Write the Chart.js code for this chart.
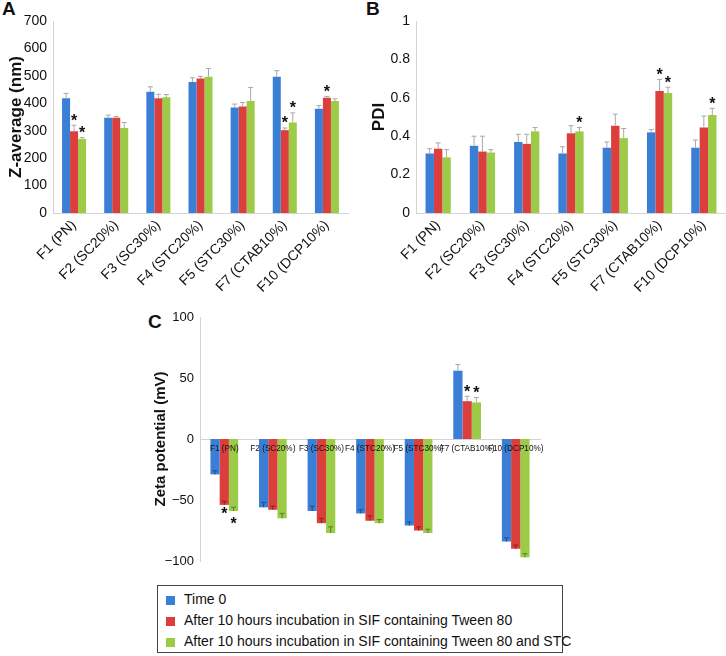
<!DOCTYPE html>
<html>
<head>
<meta charset="utf-8">
<script src="https://cdn.jsdelivr.net/npm/chart.js@4.4.0/dist/chart.umd.min.js"></script>
<style>
  body { margin: 0; background: #fff; font-family: "Liberation Sans", Arial, sans-serif; }
  #wrap { position: relative; width: 726px; height: 656px; }
  .box { position: absolute; }
  .tag { position: absolute; font-weight: bold; font-size: 19px; color: #111; }
  #legend { position: absolute; left: 157px; top: 585px; width: 406px; height: 68px; border: 1px solid #444; box-sizing: border-box; font-size: 14px; color: #111; }
  #legend div { position: absolute; left: 8px; white-space: nowrap; }
  #legend span { display: inline-block; width: 9px; height: 9px; margin-right: 9px; vertical-align: -1px; }
</style>
</head>
<body>
<div id="wrap">
  <div class="tag" style="left:2px;top:-2px">A</div>
  <div class="tag" style="left:366px;top:-2px">B</div>
  <div class="tag" style="left:148px;top:311px">C</div>
  <div class="box" style="left:0;top:0;width:363px;height:300px"><canvas id="chartA"></canvas></div>
  <div class="box" style="left:363px;top:0;width:363px;height:300px"><canvas id="chartB"></canvas></div>
  <div class="box" style="left:150px;top:300px;width:410px;height:285px"><canvas id="chartC"></canvas></div>
  <div id="legend"></div>
</div>
<script>
const categories = ["F1 (PN)", "F2 (SC20%)", "F3 (SC30%)", "F4 (STC20%)", "F5 (STC30%)", "F7 (CTAB10%)", "F10 (DCP10%)"];
const seriesNames = ["Time 0", "After 10 hours incubation in SIF containing Tween 80", "After 10 hours incubation in SIF containing Tween 80 and STC"];
const seriesColors = ["#3a7fd5", "#dc3f3b", "#9ccb48"];
const errColorsDark = ["#1d4f8f", "#8e1f1c", "#5a7f22"];

// Panel A: Z-average (nm)
const zTime0 = [418, 347, 442, 478, 385, 497, 380];
const zTween = [298, 347, 418, 490, 388, 302, 420];
const zTweenStc = [270, 310, 422, 497, 408, 330, 408];
const zErr0 = [18, 10, 18, 15, 12, 22, 12];
const zErrTween = [22, 5, 15, 8, 15, 8, 5];
const zErrStc = [5, 20, 10, 30, 50, 35, 8];
const zStarsByDs = [[], [0, 5, 6], [0, 5]];

// Panel B: PDI
const pTime0 = [0.31, 0.35, 0.37, 0.31, 0.34, 0.42, 0.34];
const pTween = [0.335, 0.32, 0.36, 0.415, 0.455, 0.635, 0.445];
const pTweenStc = [0.29, 0.315, 0.425, 0.425, 0.39, 0.625, 0.51];
const pErr0 = [0.025, 0.05, 0.04, 0.035, 0.03, 0.015, 0.04];
const pErrTween = [0.03, 0.08, 0.05, 0.04, 0.06, 0.06, 0.06];
const pErrStc = [0.04, 0.015, 0.02, 0.02, 0.05, 0.03, 0.035];
const pStarsByDs = [[], [5], [3, 5, 6]];

// Panel C: Zeta potential (mV)
const cTime0 = [-29, -56, -59, -61, -71, 56, -84];
const cTween = [-54, -58, -69, -67, -75, 31, -90];
const cTweenStc = [-59, -65, -77, -69, -77, 30, -97];
const cErr0 = [3, 4, 4, 3, 3, 5, 3];
const cErrTween = [3, 3, 4, 4, 3, 4, 3];
const cErrStc = [3, 4, 5, 3, 3, 4, 3];
const cStarsByDs = [[], [0, 5], [0, 5]];

const yTicksA = [0, 100, 200, 300, 400, 500, 600, 700];
const yTicksB = [0, 0.2, 0.4, 0.6, 0.8, 1];
const yTicksC = [-100, -50, 0, 50, 100];

const fontFam = '"Liberation Sans", Arial, sans-serif';

// error bars (toward zero inside the bar for negatives) + significance stars
const errorBarPlugin = {
  id: "errorBars",
  afterDatasetsDraw(chart, args, opts) {
    const ctx = chart.ctx;
    const yScale = chart.scales.y;
    ctx.save();
    chart.data.datasets.forEach((ds, di) => {
      const meta = chart.getDatasetMeta(di);
      meta.data.forEach((bar, i) => {
        const v = ds.data[i];
        const e = opts.errors[di][i];
        const yStart = yScale.getPixelForValue(v);
        const yEnd = yScale.getPixelForValue(v + e);
        ctx.strokeStyle = v < 0 ? errColorsDark[di] : "#a8a8a8";
        ctx.lineWidth = 1;
        ctx.beginPath();
        ctx.moveTo(bar.x, yStart);
        ctx.lineTo(bar.x, yEnd);
        ctx.moveTo(bar.x - 2.5, yEnd);
        ctx.lineTo(bar.x + 2.5, yEnd);
        ctx.stroke();
        if (opts.stars[di].includes(i)) {
          ctx.fillStyle = "#111";
          ctx.font = "bold 16px " + fontFam;
          ctx.textAlign = "center";
          if (v < 0) {
            ctx.textBaseline = "top";
            ctx.fillText("*", bar.x, yStart + 2 + (di === 2 ? 4 : 0));
          } else {
            ctx.textBaseline = "bottom";
            ctx.fillText("*", bar.x, yEnd + 4);
          }
        }
      });
    });
    ctx.restore();
  }
};

function makeDatasets(a, b, c) {
  return [a, b, c].map((d, i) => ({
    label: seriesNames[i],
    data: d,
    backgroundColor: seriesColors[i],
    borderWidth: 0,
    barPercentage: 1,
    categoryPercentage: 0.57
  }));
}

function panelOptions(o) {
  return {
    responsive: true,
    maintainAspectRatio: false,
    animation: false,
    layout: { padding: o.padding },
    plugins: {
      legend: { display: false },
      tooltip: { enabled: false },
      errorBars: { errors: o.errors, stars: o.stars }
    },
    scales: {
      x: o.x,
      y: {
        min: o.min, max: o.max,
        afterFit: s => { s.width = o.yWidth; },
        afterBuildTicks: s => { s.ticks = o.ticks.map(v => ({ value: v })); },
        grid: { display: false, drawTicks: false },
        border: { color: "#d4d4d4" },
        ticks: {
          color: "#111", padding: 6,
          font: { size: o.tickSize, family: fontFam },
          callback: v => String(v).replace("-", "\u2212")
        },
        title: {
          display: true, text: o.title, color: "#111", padding: o.titlePad,
          font: { size: o.titleSize, weight: "bold", family: fontFam }
        }
      }
    }
  };
}

function rotatedX() {
  return {
    afterFit: s => { s.height = 87; },
    grid: { display: false, drawTicks: false },
    border: { color: "#d4d4d4" },
    ticks: {
      color: "#111", autoSkip: false, maxRotation: 45, minRotation: 45, padding: 4,
      font: { size: 14, family: fontFam }
    }
  };
}

new Chart(document.getElementById("chartA"), {
  type: "bar",
  data: { labels: categories, datasets: makeDatasets(zTime0, zTween, zTweenStc) },
  options: panelOptions({
    padding: { top: 21, right: 15, left: 4, bottom: 0 },
    errors: [zErr0, zErrTween, zErrStc], stars: zStarsByDs,
    x: rotatedX(), min: 0, max: 700, ticks: yTicksA, yWidth: 49,
    tickSize: 14, title: "Z-average (nm)", titleSize: 17, titlePad: 2
  }),
  plugins: [errorBarPlugin]
});

new Chart(document.getElementById("chartB"), {
  type: "bar",
  data: { labels: categories, datasets: makeDatasets(pTime0, pTween, pTweenStc) },
  options: panelOptions({
    padding: { top: 21, right: 0, left: 4, bottom: 0 },
    errors: [pErr0, pErrTween, pErrStc], stars: pStarsByDs,
    x: rotatedX(), min: 0, max: 1, ticks: yTicksB, yWidth: 49,
    tickSize: 14, title: "PDI", titleSize: 17, titlePad: 2
  }),
  plugins: [errorBarPlugin]
});

new Chart(document.getElementById("chartC"), {
  type: "bar",
  data: { labels: categories, datasets: makeDatasets(cTime0, cTween, cTweenStc) },
  options: panelOptions({
    padding: { top: 17, right: 20, left: 0, bottom: 24 },
    errors: [cErr0, cErrTween, cErrStc], stars: cStarsByDs,
    x: {
      position: { y: 0 },
      grid: { display: false, drawTicks: false },
      border: { color: "#d4d4d4" },
      ticks: { z: 1, color: "#111", autoSkip: false, maxRotation: 0, padding: 5, font: { size: 8.2, family: fontFam } }
    },
    min: -100, max: 100, ticks: yTicksC, yWidth: 50,
    tickSize: 13, title: "Zeta potential (mV)", titleSize: 15, titlePad: 2
  }),
  plugins: [errorBarPlugin]
});

const legend = document.getElementById("legend");
seriesNames.forEach((name, i) => {
  const row = document.createElement("div");
  row.style.top = (5 + i * 21) + "px";
  row.innerHTML = `<span style="background:${seriesColors[i]}"></span>${name}`;
  legend.appendChild(row);
});
</script>
</body>
</html>
